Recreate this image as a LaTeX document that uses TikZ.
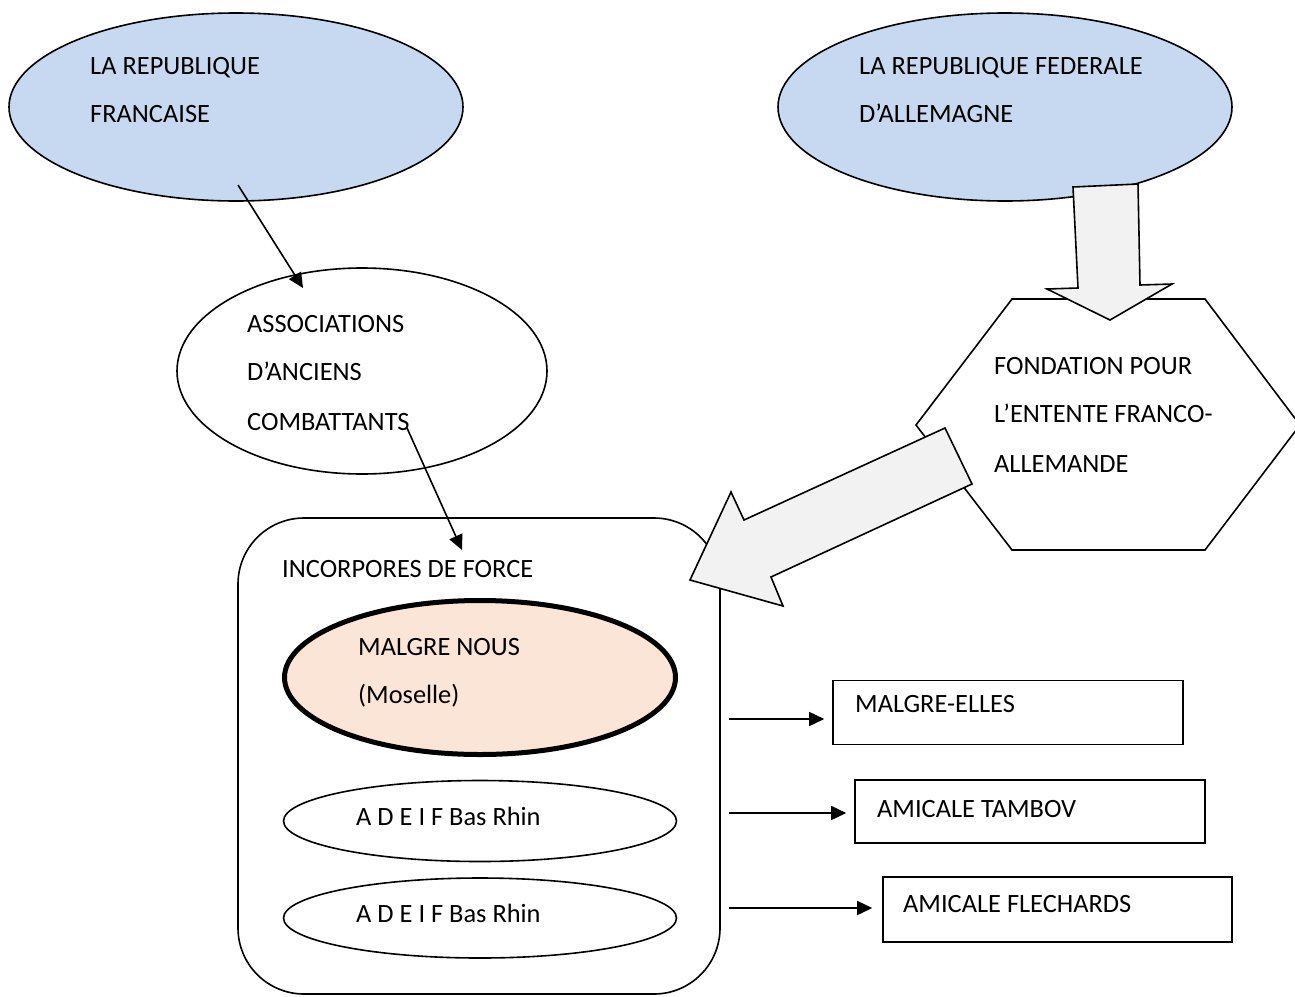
\documentclass[tikz,border=0pt]{standalone}
\usepackage{fontspec}
\setmainfont{Carlito}
\usetikzlibrary{shapes.geometric,arrows.meta}
\definecolor{blueF}{HTML}{C6D9F1}
\definecolor{peach}{HTML}{FBE5D6}
\definecolor{arrowgray}{HTML}{F2F2F2}
\tikzset{
  shp/.style={draw, line width=1.6pt},
  oval/.style={shp, ellipse, inner sep=0pt, outer sep=0pt},
  lbl/.style={anchor=base west, inner sep=0pt, font=\fontsize{26.4}{30}\selectfont},
  conn/.style={line width=1.6pt, -{Triangle[length=15pt,width=14pt]}},
  blockarrow/.style={draw, line width=1.6pt, fill=arrowgray, line join=miter},
  box/.style={shp, rectangle, inner sep=0pt, fill=white}
}
\begin{document}
\begin{tikzpicture}[x=1pt,y=-1pt]
\useasboundingbox[fill=white] (0,0) rectangle (1295,996);

% top ellipses
\node[oval, fill=blueF, minimum width=454pt, minimum height=188pt] (rf) at (236,107) {};
\node[lbl] (rft1) at (90,74) {LA REPUBLIQUE};
\node[lbl] (rft2) at (90,122) {FRANCAISE};

\node[oval, fill=blueF, minimum width=454pt, minimum height=188pt] (rfa) at (1005,107) {};
\node[lbl] (rfat1) at (859,74) {LA REPUBLIQUE FEDERALE};
\node[lbl] (rfat2) at (859,122) {D’ALLEMAGNE};

% associations
\node[oval, fill=white, minimum width=370pt, minimum height=206pt] (asso) at (362,371) {};
\node[lbl] (asst1) at (247,332) {ASSOCIATIONS};
\node[lbl] (asst2) at (247,380) {D’ANCIENS};
\node[lbl] (asst3) at (247,430) {COMBATTANTS};

% hexagon
\path[shp, fill=white] (1012,299) -- (1205,299) -- (1300,425) -- (1205,550) -- (1012,550) -- (916,425) -- cycle;
\node[lbl] (fdt1) at (994,374) {FONDATION POUR};
\node[lbl] (fdt2) at (994,422) {L’ENTENTE FRANCO-};
\node[lbl] (fdt3) at (994,472) {ALLEMANDE};

% incorporés de force container
\node[shp, rectangle, rounded corners=66pt, minimum width=482pt, minimum height=476pt, inner sep=0pt] (inc) at (479,756) {};
\node[lbl] (inct) at (282,577) {INCORPORES DE FORCE};

\node[oval, line width=5pt, fill=peach, minimum width=391pt, minimum height=154pt] (mn) at (480,677.5) {};
\node[lbl] (mnt1) at (358,655) {MALGRE NOUS};
\node[lbl] (mnt2) at (358,703) {(Moselle)};

\node[oval, fill=white, minimum width=393pt, minimum height=81pt] (ad1) at (480,821) {};
\node[lbl] (ad1t) at (356,825) {A D E I F Bas Rhin};
\node[oval, fill=white, minimum width=393pt, minimum height=80pt] (ad2) at (480,918) {};
\node[lbl] (ad2t) at (356,922) {A D E I F Bas Rhin};

% right boxes
\node[box, minimum width=350pt, minimum height=64pt] (me) at (1008,712.5) {};
\node[lbl] (met) at (855,712) {MALGRE-ELLES};
\node[box, minimum width=350pt, minimum height=63pt] (at) at (1030,811.5) {};
\node[lbl] (att) at (877,817) {AMICALE TAMBOV};
\node[box, minimum width=349pt, minimum height=65pt] (af) at (1057.5,909.5) {};
\node[lbl] (aft) at (903,912) {AMICALE FLECHARDS};

% block arrows
\path[blockarrow] (1073,187) -- (1138,184) -- (1140,285) -- (1172,284) -- (1110,320) -- (1047,289) -- (1078,288) -- cycle;
\path[blockarrow] (945,428) -- (744,520) -- (731,492) -- (690,580) -- (783,606) -- (771,577) -- (972,484) -- cycle;

% connectors
\coordinate (c1) at (238,185);
\coordinate (c1e) at (303,288);
\draw[conn] (c1) -- (c1e);
\coordinate (c2) at (407,428);
\coordinate (c2e) at (462,550);
\draw[conn] (c2) -- (c2e);

\coordinate (r1) at (729,719);
\coordinate (r2) at (729,813);
\coordinate (r3) at (729,908);
\draw[conn, shorten >=8pt] (r1) -- (r1 -| me.west);
\draw[conn, shorten >=8pt] (r2) -- (r2 -| at.west);
\draw[conn, shorten >=10pt] (r3) -- (r3 -| af.west);
\end{tikzpicture}
\end{document}
